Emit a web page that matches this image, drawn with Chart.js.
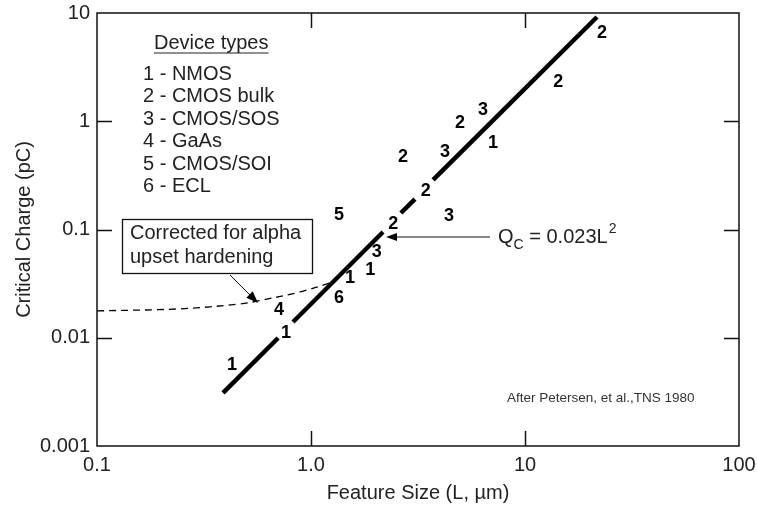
<!DOCTYPE html>
<html>
<head>
    <title>Critical Charge vs Feature Size</title>
    <script src="https://cdn.jsdelivr.net/npm/chart.js"></script>
    <style>
        body { margin: 0; background: #fff; }
    </style>
</head>
<body>
    <canvas id="qcChart" width="757" height="507"></canvas>

    <script>
        // axis ticks (decades only)
        const xTicks = [0.1, 1, 10, 100];
        const xTickLabels = ["0.1", "1.0", "10", "100"];
        const yTicks = [0.001, 0.01, 0.1, 1, 10];
        const yTickLabels = ["0.001", "0.01", "0.1", "1", "10"];

        // Qc = 0.023 L^2 fit line, drawn in pieces like the original figure
        const fitPartA = [[0.388, 0.00309], [0.702, 0.00995]];
        const fitPartB = [[0.824, 0.01397], [2.17, 0.0948]];
        const fitDash = [[2.63, 0.142], [3.06, 0.191]];
        const fitPartC = [[3.72, 0.287], [21.7, 9.19]];

        // curve corrected for alpha upset hardening
        const alphaL = [0.1, 0.244, 0.466, 0.565, 0.889, 1.227];
        const alphaQ = [0.0177, 0.0185, 0.0205, 0.0219, 0.0265, 0.0321];

        // measured devices: feature size (um), critical charge (pC), device type
        const deviceL = [22.9, 14.3, 6.36, 4.97, 7.08, 4.23, 2.69, 3.44, 4.42, 2.42, 1.35, 2.03, 1.89, 1.52, 1.35, 0.708, 0.764, 0.427];
        const deviceQ = [6.53, 2.31, 1.27, 0.964, 0.630, 0.520, 0.468, 0.227, 0.133, 0.112, 0.136, 0.0619, 0.0423, 0.0356, 0.0233, 0.0180, 0.01107, 0.00560];
        const deviceType = ["2", "2", "3", "2", "1", "3", "2", "2", "3", "2", "5", "3", "1", "1", "6", "4", "1", "1"];

        const deviceNames = ["NMOS", "CMOS bulk", "CMOS/SOS", "GaAs", "CMOS/SOI", "ECL"];

        const FONT = "'Liberation Sans', Arial, sans-serif";
        const TEXT = "#222";

        const toXY = pts => pts.map(p => ({ x: p[0], y: p[1] }));
        const fitStyle = {
            showLine: true, pointRadius: 0, borderColor: "#000",
            borderWidth: 4.5, borderCapStyle: "butt", fill: false
        };

        function arrowHead(ctx, x0, y0, x1, y1, len, half) {
            const a = Math.atan2(y1 - y0, x1 - x0);
            ctx.beginPath();
            ctx.moveTo(x1, y1);
            ctx.lineTo(x1 - len * Math.cos(a) + half * Math.sin(a), y1 - len * Math.sin(a) - half * Math.cos(a));
            ctx.lineTo(x1 - len * Math.cos(a) - half * Math.sin(a), y1 - len * Math.sin(a) + half * Math.cos(a));
            ctx.closePath();
            ctx.fill();
        }

        // frame, inward ticks, number labels and the notes on the figure
        const figurePlugin = {
            id: "figureExtras",
            afterDatasetsDraw(chart) {
                const ctx = chart.ctx;
                const { left, right, top, bottom } = chart.chartArea;
                const xs = chart.scales.x, ys = chart.scales.y;
                ctx.save();

                // frame
                ctx.strokeStyle = "#111";
                ctx.lineWidth = 1.5;
                ctx.strokeRect(left, top, right - left, bottom - top);

                // inward tick marks
                const tl = 15;
                ctx.beginPath();
                xTicks.slice(1, -1).forEach(v => {
                    const px = Math.round(xs.getPixelForValue(v)) + 0.5;
                    ctx.moveTo(px, bottom); ctx.lineTo(px, bottom - tl);
                    ctx.moveTo(px, top); ctx.lineTo(px, top + tl);
                });
                yTicks.slice(1, -1).forEach(v => {
                    const py = Math.round(ys.getPixelForValue(v)) + 0.5;
                    ctx.moveTo(left, py); ctx.lineTo(left + tl, py);
                    ctx.moveTo(right, py); ctx.lineTo(right - tl, py);
                });
                ctx.stroke();

                // device type numbers at their data points
                const meta = chart.getDatasetMeta(5);
                ctx.fillStyle = "#000";
                ctx.font = "bold 18px " + FONT;
                ctx.textAlign = "center";
                ctx.textBaseline = "middle";
                meta.data.forEach((pt, i) => {
                    ctx.fillText(deviceType[i], pt.x, pt.y);
                });

                // legend of device types
                ctx.fillStyle = TEXT;
                ctx.font = "20px " + FONT;
                ctx.textAlign = "left";
                ctx.fillText("Device types", 154, 43);
                const w = ctx.measureText("Device types").width;
                ctx.strokeStyle = TEXT;
                ctx.lineWidth = 1.2;
                ctx.beginPath();
                ctx.moveTo(154, 53); ctx.lineTo(154 + w, 53);
                ctx.stroke();
                deviceNames.forEach((n, i) => {
                    ctx.fillText((i + 1) + " - " + n, 143, 74 + i * 22.5);
                });

                // boxed note with arrow to the dashed curve
                ctx.strokeStyle = "#111";
                ctx.lineWidth = 1.3;
                ctx.strokeRect(122.5, 219.5, 190, 54);
                ctx.fillText("Corrected for alpha", 130, 233);
                ctx.fillText("upset hardening", 130, 257);
                ctx.lineWidth = 1;
                ctx.beginPath();
                ctx.moveTo(230, 275); ctx.lineTo(252, 297);
                ctx.stroke();
                ctx.fillStyle = "#000";
                arrowHead(ctx, 230, 275, 258, 303, 12, 4.5);

                // Qc equation with arrow to the fit line
                const tipX = xs.getPixelForValue(2.17) + 3;
                const tipY = 237;
                ctx.beginPath();
                ctx.moveTo(490, tipY); ctx.lineTo(tipX + 8, tipY);
                ctx.stroke();
                arrowHead(ctx, 490, tipY, tipX, tipY, 11, 4);

                ctx.fillStyle = TEXT;
                let x = 498;
                ctx.font = "20px " + FONT;
                ctx.fillText("Q", x, 237);
                x += ctx.measureText("Q").width;
                ctx.font = "14px " + FONT;
                ctx.fillText("C", x, 245);
                x += ctx.measureText("C").width;
                ctx.font = "20px " + FONT;
                ctx.fillText(" = 0.023L", x, 237);
                x += ctx.measureText(" = 0.023L").width;
                ctx.font = "14px " + FONT;
                ctx.fillText("2", x + 1, 229);

                // source note
                ctx.font = "13.5px " + FONT;
                ctx.fillStyle = "#333";
                ctx.fillText("After Petersen, et al.,TNS 1980", 507, 398);

                ctx.restore();
            }
        };

        const ctx = document.getElementById("qcChart").getContext("2d");
        const qcChart = new Chart(ctx, {
            type: "scatter",
            data: {
                datasets: [
                    { ...fitStyle, data: toXY(fitPartA) },
                    { ...fitStyle, data: toXY(fitPartB) },
                    { ...fitStyle, data: toXY(fitDash) },
                    { ...fitStyle, data: toXY(fitPartC) },
                    {
                        data: alphaL.map((l, i) => ({ x: l, y: alphaQ[i] })),
                        showLine: true, pointRadius: 0, borderColor: "#000",
                        borderWidth: 1.3, borderDash: [7, 5], tension: 0.35, fill: false
                    },
                    {
                        data: deviceL.map((l, i) => ({ x: l, y: deviceQ[i] })),
                        pointRadius: 0, showLine: false
                    }
                ]
            },
            options: {
                responsive: false,
                animation: false,
                events: [],
                layout: { padding: { left: 0, top: 13, right: 18, bottom: 0 } },
                plugins: { legend: { display: false }, tooltip: { enabled: false } },
                scales: {
                    x: {
                        type: "logarithmic",
                        min: 0.1, max: 100,
                        afterBuildTicks: s => { s.ticks = xTicks.map(v => ({ value: v })); },
                        afterFit: s => { s.height = 61; s.paddingLeft = 0; s.paddingRight = 0; },
                        grid: { display: false, drawTicks: false },
                        border: { display: false },
                        ticks: {
                            autoSkip: false, maxRotation: 0, padding: 7,
                            color: TEXT, font: { family: FONT, size: 20 },
                            callback: (v, i) => xTickLabels[i]
                        },
                        title: {
                            display: true, text: "Feature Size (L, \u00b5m)",
                            color: TEXT, font: { family: FONT, size: 20 },
                            padding: { top: 0, bottom: 2 }
                        }
                    },
                    y: {
                        type: "logarithmic",
                        min: 0.001, max: 10,
                        afterBuildTicks: s => { s.ticks = yTicks.map(v => ({ value: v })); },
                        afterFit: s => { s.width = 97; s.paddingTop = 0; s.paddingBottom = 0; },
                        grid: { display: false, drawTicks: false },
                        border: { display: false },
                        ticks: {
                            autoSkip: false, padding: 7,
                            color: TEXT, font: { family: FONT, size: 20 },
                            callback: (v, i) => yTickLabels[i]
                        },
                        title: {
                            display: true, text: "Critical Charge (pC)",
                            color: TEXT, font: { family: FONT, size: 20 },
                            padding: { top: 12, bottom: 0 }
                        }
                    }
                }
            },
            plugins: [figurePlugin]
        });
    </script>
</body>
</html>
